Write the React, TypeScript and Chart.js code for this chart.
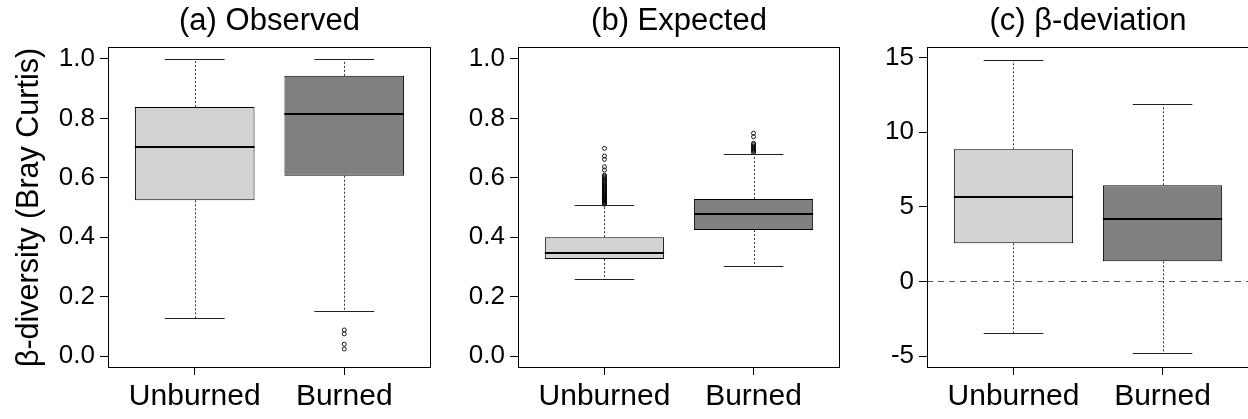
import React, { useEffect, useRef } from "react";
import { Chart, registerables } from "chart.js";

Chart.register(...registerables);

// ---------- data ----------
const categories = ["Unburned", "Burned"];
const categoryPositions = [1, 2];
const boxColors = ["#d3d3d3", "#808080"];

// (a) Observed
const obsLowWhisker = [0.127, 0.152];
const obsQ1 = [0.524, 0.607];
const obsMedian = [0.704, 0.814];
const obsQ3 = [0.838, 0.943];
const obsHighWhisker = [1.0, 1.0];
const obsOutliersUnburned: number[] = [];
const obsOutliersBurned = [0.088, 0.075, 0.04, 0.024];

// (b) Expected
const expLowWhisker = [0.259, 0.303];
const expQ1 = [0.327, 0.424];
const expMedian = [0.347, 0.477];
const expQ3 = [0.4, 0.529];
const expHighWhisker = [0.509, 0.681];
const expOutliersUnburned = [
  0.511, 0.513, 0.516, 0.518, 0.521, 0.523, 0.526, 0.529, 0.531, 0.534,
  0.537, 0.54, 0.543, 0.546, 0.549, 0.552, 0.556, 0.559, 0.562, 0.566,
  0.569, 0.573, 0.576, 0.58, 0.584, 0.588, 0.592, 0.596, 0.601, 0.605,
  0.609, 0.626, 0.637, 0.662, 0.673, 0.699,
];
const expOutliersBurned = [0.685, 0.689, 0.692, 0.695, 0.699, 0.703, 0.707, 0.712, 0.716, 0.738, 0.75];

// (c) beta-deviation
const devLowWhisker = [-3.43, -4.77];
const devQ1 = [2.56, 1.35];
const devMedian = [5.64, 4.19];
const devQ3 = [8.86, 6.45];
const devHighWhisker = [14.85, 11.88];
const devOutliersUnburned: number[] = [];
const devOutliersBurned: number[] = [];

const unitTicks = [0, 0.2, 0.4, 0.6, 0.8, 1.0];
const devTicks = [-5, 0, 5, 10, 15];

const FONT = "'Liberation Sans', Arial, Helvetica, sans-serif";

type PanelProps = {
  left: number;
  width: number;
  yAxisWidth: number;
  padRight: number;
  title: string;
  yTitle?: string;
  yMin: number;
  yMax: number;
  yTicks: number[];
  decimals: number;
  lows: number[];
  q1: number[];
  med: number[];
  q3: number[];
  highs: number[];
  outliers: number[][];
  refLine?: number;
};

const boxPlugin = {
  id: "boxExtras",
  beforeDatasetsDraw(chart: any) {
    const ref = chart.options.plugins.boxExtras?.refLine;
    if (ref === undefined || ref === null) return;
    const { ctx, chartArea } = chart;
    const y = Math.round(chart.scales.y.getPixelForValue(ref)) + 0.5;
    ctx.save();
    ctx.strokeStyle = "#555";
    ctx.lineWidth = 1;
    ctx.setLineDash([6, 5]);
    ctx.beginPath();
    ctx.moveTo(chartArea.left, y);
    ctx.lineTo(chartArea.right, y);
    ctx.stroke();
    ctx.restore();
  },
  afterDatasetsDraw(chart: any) {
    const o = chart.options.plugins.boxExtras;
    const { ctx, chartArea } = chart;
    const ys = chart.scales.y;
    const meta = chart.getDatasetMeta(0);
    ctx.save();
    meta.data.forEach((bar: any, i: number) => {
      const cx = Math.round(bar.x) + 0.5;
      const half = bar.width / 2;
      const capHalf = bar.width / 4;
      const yLow = Math.round(ys.getPixelForValue(o.lows[i])) + 0.5;
      const yHigh = Math.round(ys.getPixelForValue(o.highs[i])) + 0.5;
      const yQ1 = ys.getPixelForValue(o.q1[i]);
      const yQ3 = ys.getPixelForValue(o.q3[i]);
      const yMed = ys.getPixelForValue(o.med[i]);
      // whiskers
      ctx.strokeStyle = "#333";
      ctx.lineWidth = 1;
      ctx.setLineDash([2, 2]);
      ctx.beginPath();
      ctx.moveTo(cx, yQ3);
      ctx.lineTo(cx, yHigh);
      ctx.moveTo(cx, yQ1);
      ctx.lineTo(cx, yLow);
      ctx.stroke();
      // caps
      ctx.setLineDash([]);
      ctx.strokeStyle = "#222";
      ctx.beginPath();
      ctx.moveTo(bar.x - capHalf, yHigh);
      ctx.lineTo(bar.x + capHalf, yHigh);
      ctx.moveTo(bar.x - capHalf, yLow);
      ctx.lineTo(bar.x + capHalf, yLow);
      ctx.stroke();
      // median
      ctx.strokeStyle = "#000";
      ctx.lineWidth = 2;
      ctx.beginPath();
      ctx.moveTo(bar.x - half, Math.round(yMed));
      ctx.lineTo(bar.x + half, Math.round(yMed));
      ctx.stroke();
    });
    // frame
    ctx.strokeStyle = "#000";
    ctx.lineWidth = 1;
    ctx.setLineDash([]);
    ctx.strokeRect(
      Math.round(chartArea.left) + 0.5,
      Math.round(chartArea.top) + 0.5,
      Math.round(chartArea.right - chartArea.left) - 1,
      Math.round(chartArea.bottom - chartArea.top) - 1
    );
    ctx.restore();
  },
};

function BoxPanel(p: PanelProps) {
  const ref = useRef<HTMLCanvasElement | null>(null);
  useEffect(() => {
    if (!ref.current) return;
    const titleFont = { family: FONT, size: 31, weight: "normal" as const, lineHeight: 1.2 };
    const xFont = { family: FONT, size: 30, weight: "normal" as const, lineHeight: 1.2 };
    const yFont = { family: FONT, size: 26, weight: "normal" as const, lineHeight: 1.2 };
    const yTitleFont = { family: FONT, size: 30.5, weight: "normal" as const, lineHeight: 1.2 };
    const outlierPoints: { x: number; y: number }[] = [];
    p.outliers.forEach((arr, i) => arr.forEach((v) => outlierPoints.push({ x: categoryPositions[i], y: v })));
    const chart = new Chart(ref.current, {
      type: "bar",
      data: {
        datasets: [
          {
            type: "bar",
            data: categoryPositions.map((x, i) => ({ x, y: [p.q1[i], p.q3[i]] })) as any,
            backgroundColor: boxColors,
            borderColor: "#000",
            borderWidth: 1,
            borderSkipped: false,
            barPercentage: 0.8,
            categoryPercentage: 1,
          },
          {
            type: "scatter",
            data: outlierPoints as any,
            showLine: false,
            pointRadius: 2,
            pointBorderWidth: 0.9,
            pointBorderColor: "#000",
            pointBackgroundColor: "rgba(0,0,0,0)",
          } as any,
        ],
      },
      options: {
        animation: false,
        responsive: false,
        devicePixelRatio: 1,
        events: [],
        layout: { padding: { left: 0, right: p.padRight, top: 0, bottom: 0 } },
        plugins: {
          legend: { display: false },
          tooltip: { enabled: false },
          title: {
            display: true,
            text: p.title,
            fullSize: false,
            color: "#000",
            font: titleFont,
            padding: { top: 3, bottom: 6.8 },
          },
          boxExtras: {
            lows: p.lows,
            highs: p.highs,
            q1: p.q1,
            q3: p.q3,
            med: p.med,
            refLine: p.refLine,
          },
        } as any,
        scales: {
          x: {
            type: "linear",
            offset: false,
            min: 0.42,
            max: 2.58,
            afterBuildTicks: (s: any) => {
              s.ticks = categoryPositions.map((v) => ({ value: v }));
            },
            afterFit: (s: any) => {
              s.height = 51;
            },
            ticks: {
              callback: (v: any) => categories[categoryPositions.indexOf(Number(v))],
              font: xFont,
              color: "#000",
              padding: 4,
              maxRotation: 0,
              autoSkip: false,
            },
            grid: {
              offset: false,
              drawOnChartArea: false,
              drawTicks: true,
              tickLength: 7,
              tickColor: "#000",
              tickWidth: 1,
            },
            border: { display: false },
          },
          y: {
            type: "linear",
            min: p.yMin,
            max: p.yMax,
            afterBuildTicks: (s: any) => {
              s.ticks = p.yTicks.map((v) => ({ value: v }));
            },
            afterFit: (s: any) => {
              s.width = p.yAxisWidth;
            },
            ticks: {
              callback: (v: any) => Number(v).toFixed(p.decimals),
              font: yFont,
              color: "#000",
              padding: 5,
              autoSkip: false,
            },
            grid: { drawOnChartArea: false, drawTicks: true, tickLength: 8, tickColor: "#000", tickWidth: 1 },
            border: { display: false },
            title: p.yTitle
              ? { display: true, text: p.yTitle, color: "#000", font: yTitleFont, padding: { top: 11, bottom: 0 } }
              : { display: false },
          },
        } as any,
      },
      plugins: [boxPlugin],
    });
    return () => chart.destroy();
  }, []);
  return (
    <canvas
      ref={ref}
      width={p.width}
      height={419}
      style={{ position: "absolute", left: p.left, top: 0, width: p.width, height: 419 }}
    />
  );
}

export default function App() {
  return (
    <div
      style={{
        position: "absolute",
        left: 0,
        top: 0,
        width: 1248,
        height: 419,
        overflow: "hidden",
        background: "#fff",
      }}
    >
      <BoxPanel
        left={0}
        width={440}
        yAxisWidth={108}
        padRight={9}
        title="(a) Observed"
        yTitle="β-diversity (Bray Curtis)"
        yMin={-0.04}
        yMax={1.04}
        yTicks={unitTicks}
        decimals={1}
        lows={obsLowWhisker}
        q1={obsQ1}
        med={obsMedian}
        q3={obsQ3}
        highs={obsHighWhisker}
        outliers={[obsOutliersUnburned, obsOutliersBurned]}
      />
      <BoxPanel
        left={440}
        width={408}
        yAxisWidth={78}
        padRight={8}
        title="(b) Expected"
        yMin={-0.04}
        yMax={1.04}
        yTicks={unitTicks}
        decimals={1}
        lows={expLowWhisker}
        q1={expQ1}
        med={expMedian}
        q3={expQ3}
        highs={expHighWhisker}
        outliers={[expOutliersUnburned, expOutliersBurned]}
      />
      <BoxPanel
        left={848}
        width={402}
        yAxisWidth={79}
        padRight={1}
        title="(c) β-deviation"
        yMin={-5.8}
        yMax={15.72}
        yTicks={devTicks}
        decimals={0}
        lows={devLowWhisker}
        q1={devQ1}
        med={devMedian}
        q3={devQ3}
        highs={devHighWhisker}
        outliers={[devOutliersUnburned, devOutliersBurned]}
        refLine={0}
      />
    </div>
  );
}
